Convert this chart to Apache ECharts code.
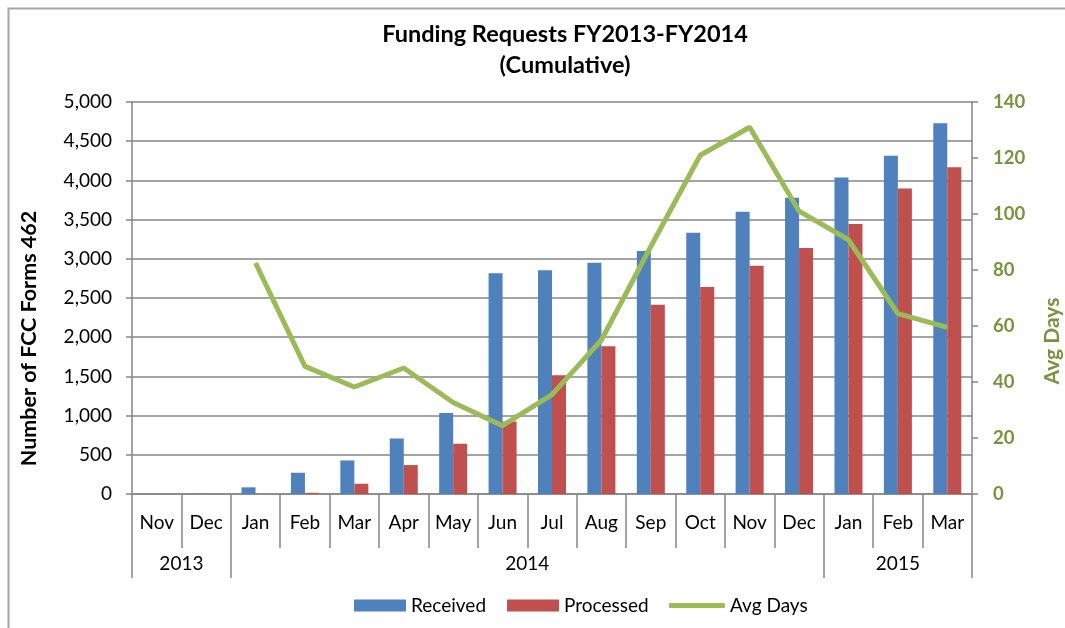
<!DOCTYPE html>
<html>
<head>
<meta charset="utf-8">
<script src="https://cdn.jsdelivr.net/npm/echarts@6/dist/echarts.min.js"></script>
<style>
html,body{margin:0;padding:0;background:#fff;}
#chart{width:1065px;height:628px;}
</style>
</head>
<body>
<div id="chart"></div>
<script>
// ---- data ----
var months = ['Nov','Dec','Jan','Feb','Mar','Apr','May','Jun','Jul','Aug','Sep','Oct','Nov','Dec','Jan','Feb','Mar'];
var years = ['2013','2014','2015'];
var yearSpans = [2, 12, 3];
var received = [0, 5, 85, 271, 428, 708, 1032, 2815, 2853, 2950, 3099, 3332, 3600, 3778, 4038, 4313, 4730];
var processed = [0, 0, 0, 15, 131, 369, 641, 925, 1516, 1885, 2415, 2641, 2912, 3137, 3443, 3898, 4169];
var avgDays = [null, null, 82.5, 45.6, 38.2, 45, 32.7, 24.4, 35.5, 55, 88.4, 121, 131, 101, 90.8, 64.4, 59.5];
var leftTicks = {min: 0, max: 5000, interval: 500};
var rightTicks = {min: 0, max: 140, interval: 20};

// year group boundaries / centers derived from spans
var yearBounds = [0], yearCenters = [], acc = 0;
yearSpans.forEach(function (s) { yearCenters.push(acc + s / 2); acc += s; yearBounds.push(acc); });

var FONT = 'Lato, "Open Sans", sans-serif';
var GRAY = '#868686';

var chart = echarts.init(document.getElementById('chart'), null, {renderer: 'canvas'});
chart.setOption({
  animation: false,
  backgroundColor: '#ffffff',
  textStyle: {fontFamily: FONT},
  title: {
    text: 'Funding Requests FY2013-FY2014\n(Cumulative)',
    left: 560, top: 14, textAlign: 'center',
    textStyle: {fontFamily: FONT, fontSize: 23.5, fontWeight: 'bold', color: '#000', lineHeight: 31}
  },
  graphic: [{
    type: 'rect', left: 6, top: 6, silent: true,
    shape: {width: 1080, height: 640},
    style: {fill: null, stroke: '#a6a6a6', lineWidth: 2}
  }],
  legend: [{
    top: 591, left: 349,
    itemWidth: 52, itemHeight: 12, itemGap: 21,
    textStyle: {fontFamily: FONT, fontSize: 19, color: '#000'},
    icon: 'rect',
    data: ['Received', 'Processed']
  }, {
    top: 591, left: 664,
    itemWidth: 56, itemHeight: 5,
    textStyle: {fontFamily: FONT, fontSize: 19, color: '#000'},
    icon: 'roundRect',
    data: ['Avg Days']
  }],
  grid: {left: 132, right: 93, top: 102, bottom: 134, containLabel: false, outerBoundsMode: 'none'},
  xAxis: [{
    type: 'category', data: months, position: 'bottom',
    boundaryGap: true,
    axisLine: {lineStyle: {color: GRAY, width: 1.5}},
    axisTick: {show: true, interval: 0, length: 54, lineStyle: {color: GRAY, width: 1.5}},
    axisLabel: {interval: 0, margin: 19, fontSize: 19, color: '#000', fontFamily: FONT},
    splitLine: {show: false}
  }, {
    type: 'value', min: 0, max: months.length, position: 'bottom',
    axisLine: {show: false},
    splitLine: {show: false},
    axisTick: {show: true, customValues: yearBounds, length: 84, lineStyle: {color: GRAY, width: 1.5}},
    axisLabel: {
      customValues: yearCenters, margin: 60, fontSize: 19, color: '#000', fontFamily: FONT,
      formatter: function (v) { var i = yearCenters.indexOf(v); return i >= 0 ? years[i] : ''; }
    }
  }],
  yAxis: [{
    type: 'value', position: 'left',
    min: leftTicks.min, max: leftTicks.max, interval: leftTicks.interval,
    name: 'Number of FCC Forms 462', nameLocation: 'middle', nameGap: 92, nameRotate: 90,
    nameTextStyle: {fontFamily: FONT, fontSize: 21.5, fontWeight: 'bold', color: '#000', padding: [0, 81, 0, 0]},
    axisLine: {show: true, lineStyle: {color: GRAY, width: 1.5}},
    axisTick: {show: true, length: 6, lineStyle: {color: GRAY, width: 1.5}},
    axisLabel: {fontSize: 19, color: '#000', margin: 20, fontFamily: FONT,
      formatter: function (v) { return v.toLocaleString('en-US'); }},
    splitLine: {show: true, lineStyle: {color: GRAY, width: 1.5}}
  }, {
    type: 'value', position: 'right',
    min: rightTicks.min, max: rightTicks.max, interval: rightTicks.interval,
    name: 'Avg Days', nameLocation: 'middle', nameGap: 70, nameRotate: 90,
    nameTextStyle: {fontFamily: FONT, fontSize: 21, fontWeight: 'bold', color: '#77933C', padding: [0, 86, 0, 0]},
    axisLine: {show: true, lineStyle: {color: GRAY, width: 1.5}},
    axisTick: {show: true, length: 6, lineStyle: {color: GRAY, width: 1.5}},
    axisLabel: {fontSize: 18.5, fontWeight: 'bold', color: '#77933C', margin: 21, fontFamily: FONT},
    splitLine: {show: false}
  }],
  series: [{
    name: 'Received', type: 'bar', xAxisIndex: 0, yAxisIndex: 0,
    data: received, barWidth: 14, barGap: '0%',
    itemStyle: {color: '#4F81BD'}
  }, {
    name: 'Processed', type: 'bar', xAxisIndex: 0, yAxisIndex: 0,
    data: processed, barWidth: 14, barGap: '0%',
    itemStyle: {color: '#C0504D'}
  }, {
    name: 'Avg Days', type: 'line', xAxisIndex: 0, yAxisIndex: 1,
    data: avgDays, showSymbol: false, symbol: 'none', connectNulls: false,
    lineStyle: {color: '#9BBB59', width: 5},
    itemStyle: {color: '#9BBB59'}
  }]
});
</script>
</body>
</html>
